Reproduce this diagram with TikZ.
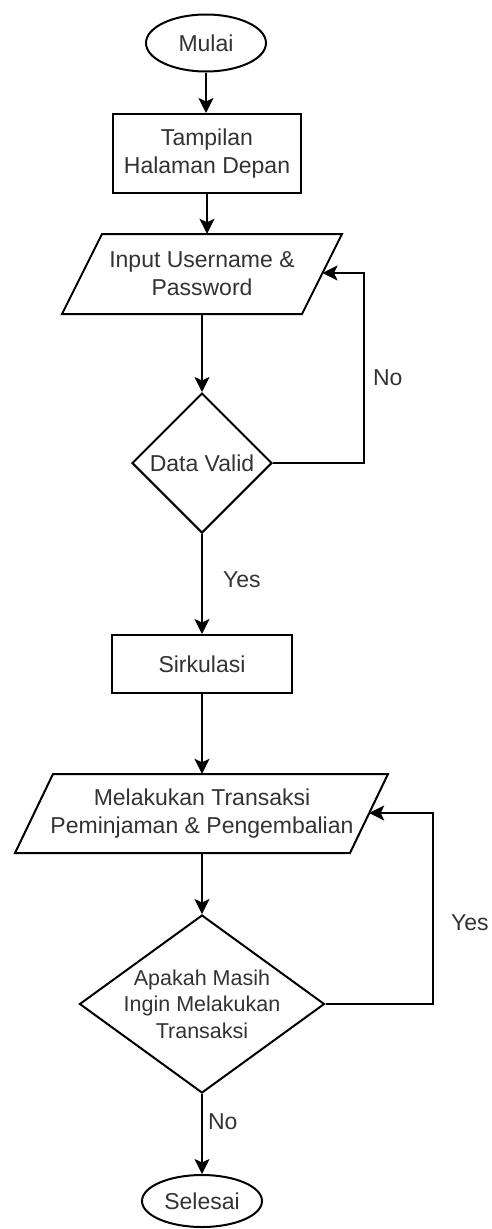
\documentclass[tikz,border=0pt]{standalone}
\usepackage{fontspec}
\setmainfont{Liberation Sans}
\usetikzlibrary{shapes.geometric,arrows.meta}
\definecolor{txt}{HTML}{333333}
\begin{document}
\begin{tikzpicture}[x=1pt,y=-1pt,
  every node/.style={text=txt, font=\fontsize{23}{28}\selectfont, align=center, inner sep=0pt},
  shapeline/.style={draw=black, line width=2pt},
  term/.style={ellipse, shapeline, minimum width=120pt, minimum height=57pt},
  proc/.style={rectangle, shapeline},
  dec/.style={diamond, shapeline},
  conn/.style={draw=black, line width=2pt, -{Stealth[length=15pt,width=15pt,inset=3.5pt]}},
  lbl/.style={font=\fontsize{23}{28}\selectfont}
]
\fill[white] (0,0) rectangle (491,1229);
\useasboundingbox (0,0) rectangle (491,1229);

% nodes
\node[term] (mulai) at (206,43) {Mulai};
\node[proc, minimum width=188pt, minimum height=79pt] (tamp) at (207,153.5) {Tampilan\\Halaman Depan};

\draw[shapeline, line join=miter] (62,314) -- (302,314) -- (342,234) -- (102,234) -- cycle;
\node[minimum width=240pt, minimum height=80pt] (input) at (202,274) {Input Username \&\\Password};
\coordinate (inE) at (322.5,273);

\node[dec, minimum width=140pt, minimum height=140pt] (valid) at (202,463) {Data Valid};

\node[proc, minimum width=180pt, minimum height=58pt] (sirk) at (202,664) {Sirkulasi};

\draw[shapeline, line join=miter] (15,853) -- (350,853) -- (388,774) -- (53,774) -- cycle;
\node[minimum width=250pt, minimum height=79pt] (trans) at (202,813.5) {Melakukan Transaksi\\Peminjaman \& Pengembalian};
\coordinate (transE) at (369.2,813);

\node[dec, aspect=1.376, inner sep=-12pt, minimum width=245pt, minimum height=178pt,
      font=\fontsize{21.5}{26.5}\selectfont] (ask) at (202,1004) {Apakah Masih\\Ingin Melakukan\\Transaksi};

\node[term, minimum height=52pt] (selesai) at (202,1201) {Selesai};

% connectors
\draw[conn] (mulai.south) -- (mulai.south |- tamp.north);
\draw[conn] (tamp.south) -- (tamp.south |- input.north);
\draw[conn] (input.south) -- (valid.north);
\draw[conn] (valid.south) -- node[lbl, pos=0.46, anchor=west, xshift=20pt] {Yes} (sirk.north);
\draw[conn] (valid.east) -- ++(91,0) |- node[lbl, pos=0.225, anchor=west, xshift=8pt] {No} (inE);
\draw[conn] (sirk.south) -- (trans.north);
\draw[conn] (trans.south) -- (ask.north);
\draw[conn] (ask.east) -- ++(107.5,0) |- node[lbl, pos=0.212, anchor=west, xshift=17pt] {Yes} (transE);
\draw[conn] (ask.south) -- node[lbl, pos=0.35, anchor=west, xshift=5pt] {No} (selesai.north);
\end{tikzpicture}
\end{document}
